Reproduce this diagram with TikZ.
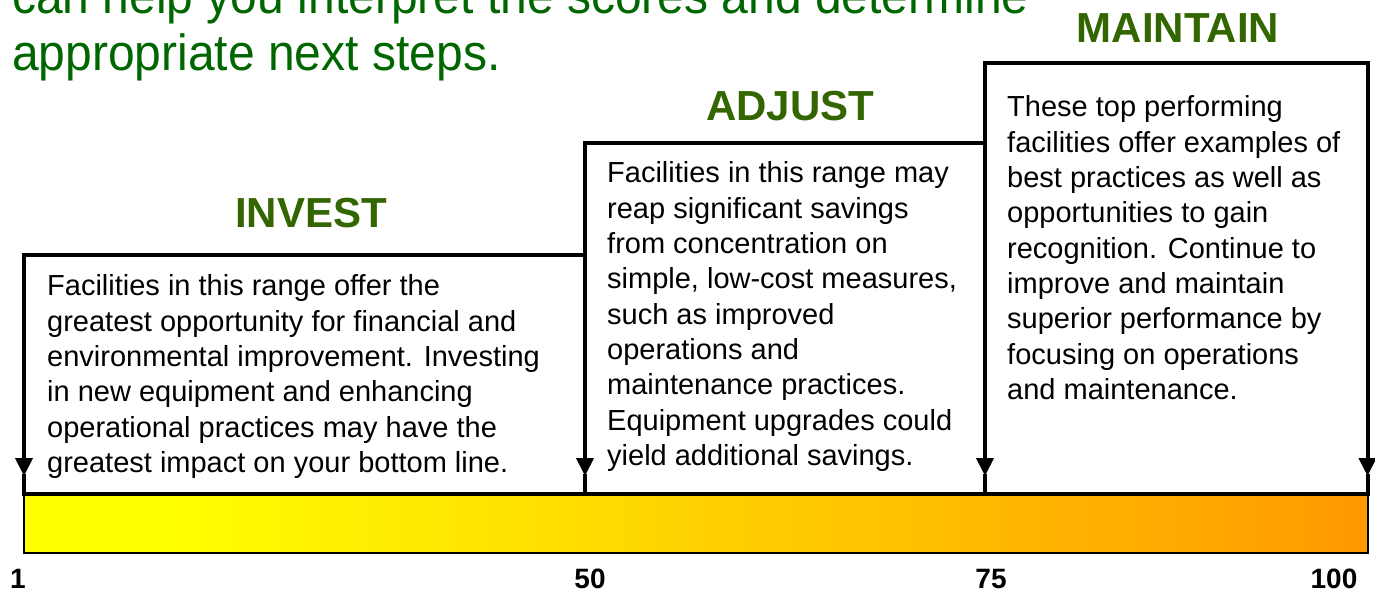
\documentclass[tikz,border=0pt]{standalone}
\usepackage{fontspec}
\setmainfont{Liberation Sans}
\usetikzlibrary{arrows.meta}
\definecolor{topgreen}{RGB}{0,102,0}
\definecolor{headgreen}{RGB}{51,102,0}
\definecolor{barY}{RGB}{255,255,0}
\definecolor{barO}{RGB}{255,153,0}
\pgfdeclarehorizontalshading{barshade}{100bp}{color(0bp)=(barY); color(30.4bp)=(barY); color(75bp)=(barO); color(100bp)=(barO)}
\begin{document}
\begin{tikzpicture}[x=1pt,y=-1pt,
  frame/.style={line width=4pt, line cap=rect},
  pointer/.style={line width=4pt, -{Triangle[length=18pt,width=17pt]}},
  head/.style={font=\fontsize{42}{50}\selectfont\bfseries, text=headgreen, anchor=base, inner sep=0},
  body/.style={anchor=base west, inner sep=0, font=\fontsize{29}{35.3}\selectfont},
  num/.style={anchor=base, inner sep=0, font=\fontsize{28}{34}\selectfont\bfseries}]
\useasboundingbox (0,0) rectangle (1375,593);

% intro text (partly cut at the top, as in the reference)
\node[anchor=base west, inner sep=0, text=topgreen, font=\fontsize{48}{53}\selectfont] (intro) at (12,14)
  {\scalebox{1}[1.06]{\parbox[t]{1200pt}{can help you interpret the scores and determine\\appropriate next steps.}}};

% gradient bar
\node[draw, line width=1.5pt, shading=barshade, minimum width=1344pt, minimum height=59pt, inner sep=0] (bar) at (696,523.5) {};

% coordinates
\coordinate (t1) at (24,255);
\coordinate (t2) at (585,143);
\coordinate (t3) at (985,63);
\coordinate (t4) at (1367.5,63);
\coordinate (a1) at (24,476);
\coordinate (a2) at (585,476);
\coordinate (a3) at (985,476);
\coordinate (a4) at (1367.5,476);
\coordinate (b1) at (24,493.5);
\coordinate (b2) at (585,493.5);
\coordinate (b3) at (985,493.5);
\coordinate (b4) at (1367.5,493.5);

% step outline
\draw[frame] (t1) -- (t1 -| t2);
\draw[frame] (t2) -- (t2 -| t3);
\draw[frame] (t3) -- (t4);
\draw[frame] (b1) -- (b4);
\foreach \i in {1,2,3,4}{
  \draw[pointer] (t\i) -- (a\i);
  \draw[frame] (a\i) -- (b\i);
}

% headings
\node[head] (hinvest) at (311,228) {INVEST};
\node[head] (hadjust) at (790,121) {ADJUST};
\node[head] (hmaintain) at (1178,43) {MAINTAIN};

% body texts
\node[body] (tinvest) at (47,296) {\parbox[t]{530pt}{\raggedright
Facilities in this range offer the\\
greatest opportunity for financial and\\
environmental improvement. Investing\\
in new equipment and enhancing\\
operational practices may have the\\
greatest impact on your bottom line.}};
\node[body] (tadjust) at (607,183) {\parbox[t]{370pt}{\raggedright
Facilities in this range may\\
reap significant savings\\
from concentration on\\
simple, low-cost measures,\\
such as improved\\
operations and\\
maintenance practices.\\
Equipment upgrades could\\
yield additional savings.}};
\node[body] (tmaintain) at (1007,117) {\parbox[t]{355pt}{\raggedright
These top performing\\
facilities offer examples of\\
best practices as well as\\
opportunities to gain\\
recognition. Continue to\\
improve and maintain\\
superior performance by\\
focusing on operations\\
and maintenance.}};

% scale numbers
\node[num] (n1) at (18,588) {1};
\node[num] (n50) at (590,588) {50};
\node[num] (n75) at (991,588) {75};
\node[num] (n100) at (1334,588) {100};
\end{tikzpicture}
\end{document}
